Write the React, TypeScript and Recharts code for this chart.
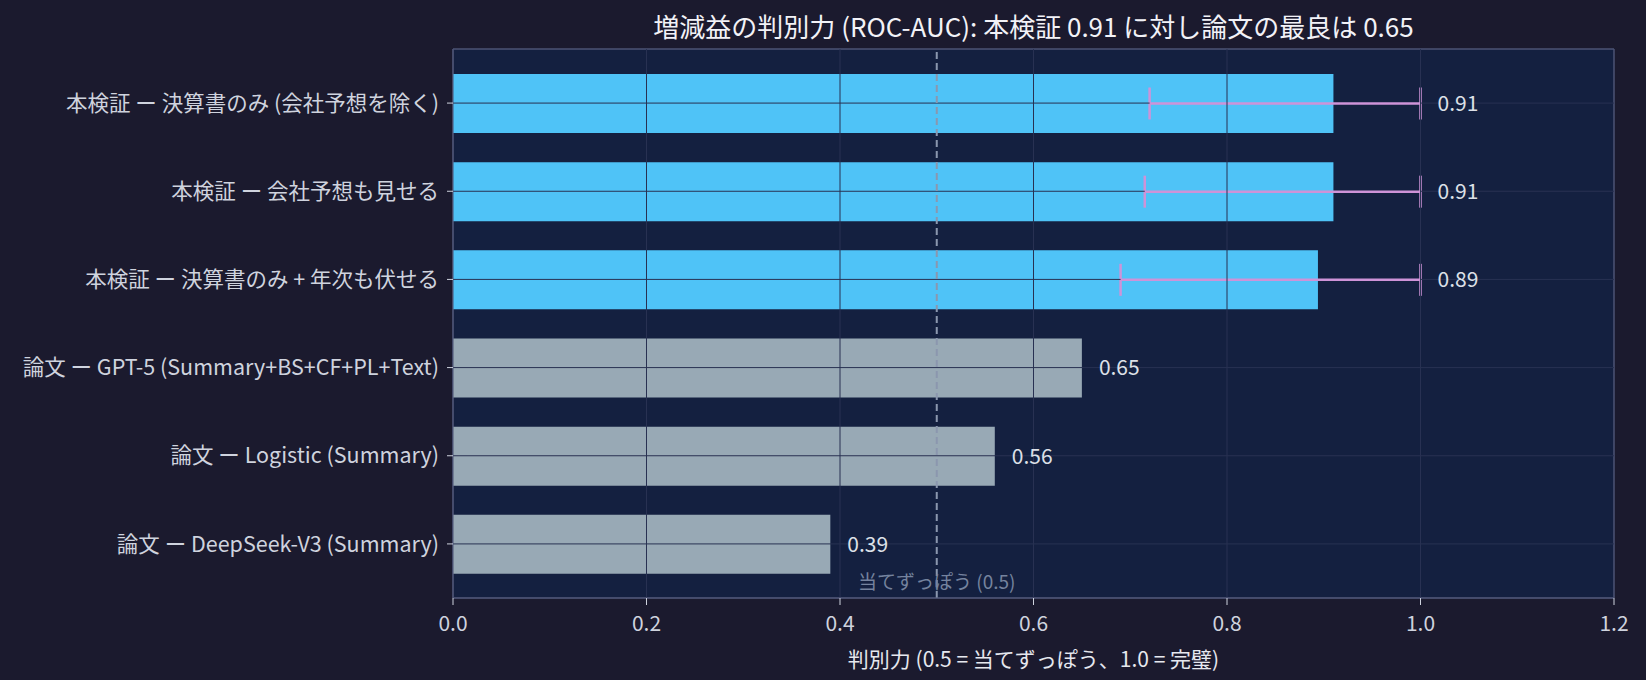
import React from "react";
import {
  BarChart,
  Bar,
  XAxis,
  YAxis,
  CartesianGrid,
  ReferenceLine,
  ErrorBar,
  Cell,
  LabelList,
  Label,
} from "recharts";

const labels = [
  "本検証 ー 決算書のみ (会社予想を除く)",
  "本検証 ー 会社予想も見せる",
  "本検証 ー 決算書のみ + 年次も伏せる",
  "論文 ー GPT-5 (Summary+BS+CF+PL+Text)",
  "論文 ー Logistic (Summary)",
  "論文 ー DeepSeek-V3 (Summary)",
];
const auc = [0.91, 0.91, 0.894, 0.65, 0.56, 0.39];
const ciLow: (number | null)[] = [0.72, 0.715, 0.69, null, null, null];
const ciHigh: (number | null)[] = [1.0, 1.0, 1.0, null, null, null];
const source = ["ours", "ours", "ours", "paper", "paper", "paper"];
const xTicks = [0, 0.2, 0.4, 0.6, 0.8, 1.0, 1.2];

const data = labels.map((label, i) => ({
  label,
  auc: auc[i],
  err:
    ciLow[i] != null && ciHigh[i] != null
      ? [auc[i] - (ciLow[i] as number), (ciHigh[i] as number) - auc[i]]
      : null,
}));

const FONT = '"Noto Sans CJK JP", "Noto Sans", sans-serif';
const GRID = "#283152";
const SPINE = "#4d5374";
const TEXT = "#cfd3de";

function ValueLabel(props: any) {
  const { x, y, width, height, index } = props;
  const hi = ciHigh[index];
  const end = hi != null ? x + (width * hi) / auc[index] : x + width;
  return (
    <text
      x={end + 17}
      y={y + height / 2}
      dy="0.35em"
      fill="#dde0e8"
      fontSize={21}
      fontFamily={FONT}
    >
      {auc[index].toFixed(2)}
    </text>
  );
}

function ChanceLabel(props: any) {
  const { viewBox } = props;
  return (
    <text
      x={viewBox.x}
      y={viewBox.y + viewBox.height - 16}
      dy="0.35em"
      textAnchor="middle"
      fill="#75839e"
      fontSize={19}
      fontFamily={FONT}
    >
      当てずっぽう (0.5)
    </text>
  );
}

// plot frame: lines on the four edges of the plotting area
const frameH = ({ offset }: any) => [offset.top, offset.top + offset.height];
const frameV = ({ offset }: any) => [offset.left, offset.left + offset.width];

export default function App() {
  return (
    <div
      style={{
        position: "fixed",
        left: 0,
        top: 0,
        width: 1646,
        height: 680,
        background: "#1b1a2e",
        fontFamily: FONT,
      }}
    >
      <div
        style={{
          position: "absolute",
          left: 453,
          width: 1161,
          top: 9,
          textAlign: "center",
          color: "#f2f2f7",
          fontSize: 26,
          lineHeight: "34px",
        }}
      >
        増減益の判別力 (ROC-AUC): 本検証 0.91 に対し論文の最良は 0.65
      </div>
      <BarChart
        width={1646}
        height={680}
        data={data}
        layout="vertical"
        margin={{ top: 49, right: 32, bottom: 0, left: 0 }}
      >
        <CartesianGrid
          fill="#142040"
          stroke={SPINE}
          strokeWidth={1.5}
          horizontalCoordinatesGenerator={frameH}
          verticalCoordinatesGenerator={frameV}
        />
        <XAxis
          type="number"
          domain={[0, 1.2]}
          ticks={xTicks}
          tickFormatter={(v: number) => v.toFixed(1)}
          height={82}
          tickSize={7}
          tickMargin={11}
          stroke={SPINE}
          tickLine={{ stroke: TEXT }}
          tick={{ fill: TEXT, fontSize: 21 }}
        >
          <Label
            value="判別力 (0.5 = 当てずっぽう、1.0 = 完璧)"
            position="insideBottom"
            offset={13}
            fill="#e6e8ef"
            fontSize={21}
          />
        </XAxis>
        <YAxis
          type="category"
          dataKey="label"
          width={453}
          tickSize={6}
          tickMargin={8}
          padding={{ top: 10, bottom: 10 }}
          stroke={SPINE}
          tickLine={{ stroke: TEXT }}
          tick={{ fill: TEXT, fontSize: 21.5 }}
          interval={0}
        />
        <Bar dataKey="auc" barSize={59} isAnimationActive={false}>
          {source.map((s, i) => (
            <Cell key={i} fill={s === "ours" ? "#4fc3f7" : "#98a9b5"} />
          ))}
          <ErrorBar
            dataKey="err"
            direction="x"
            width={16}
            stroke="#ce93d8"
            strokeWidth={2.5}
            isAnimationActive={false}
          />
          <LabelList dataKey="auc" content={<ValueLabel />} />
        </Bar>
        {xTicks.slice(1, -1).map((t) => (
          <ReferenceLine key={"x" + t} x={t} stroke={GRID} strokeWidth={1} />
        ))}
        {labels.map((l, i) =>
          ciLow[i] != null ? (
            <React.Fragment key={"y" + l}>
              <ReferenceLine
                segment={[
                  { x: 0, y: l },
                  { x: ciLow[i] as number, y: l },
                ]}
                stroke={GRID}
                strokeWidth={1}
              />
              <ReferenceLine
                segment={[
                  { x: ciHigh[i] as number, y: l },
                  { x: 1.2, y: l },
                ]}
                stroke={GRID}
                strokeWidth={1}
              />
            </React.Fragment>
          ) : (
            <ReferenceLine key={"y" + l} y={l} stroke={GRID} strokeWidth={1} />
          )
        )}
        <ReferenceLine
          x={0.5}
          stroke="#8b97ae"
          strokeWidth={2}
          strokeDasharray="7 4"
          label={<ChanceLabel />}
        />
      </BarChart>
    </div>
  );
}
